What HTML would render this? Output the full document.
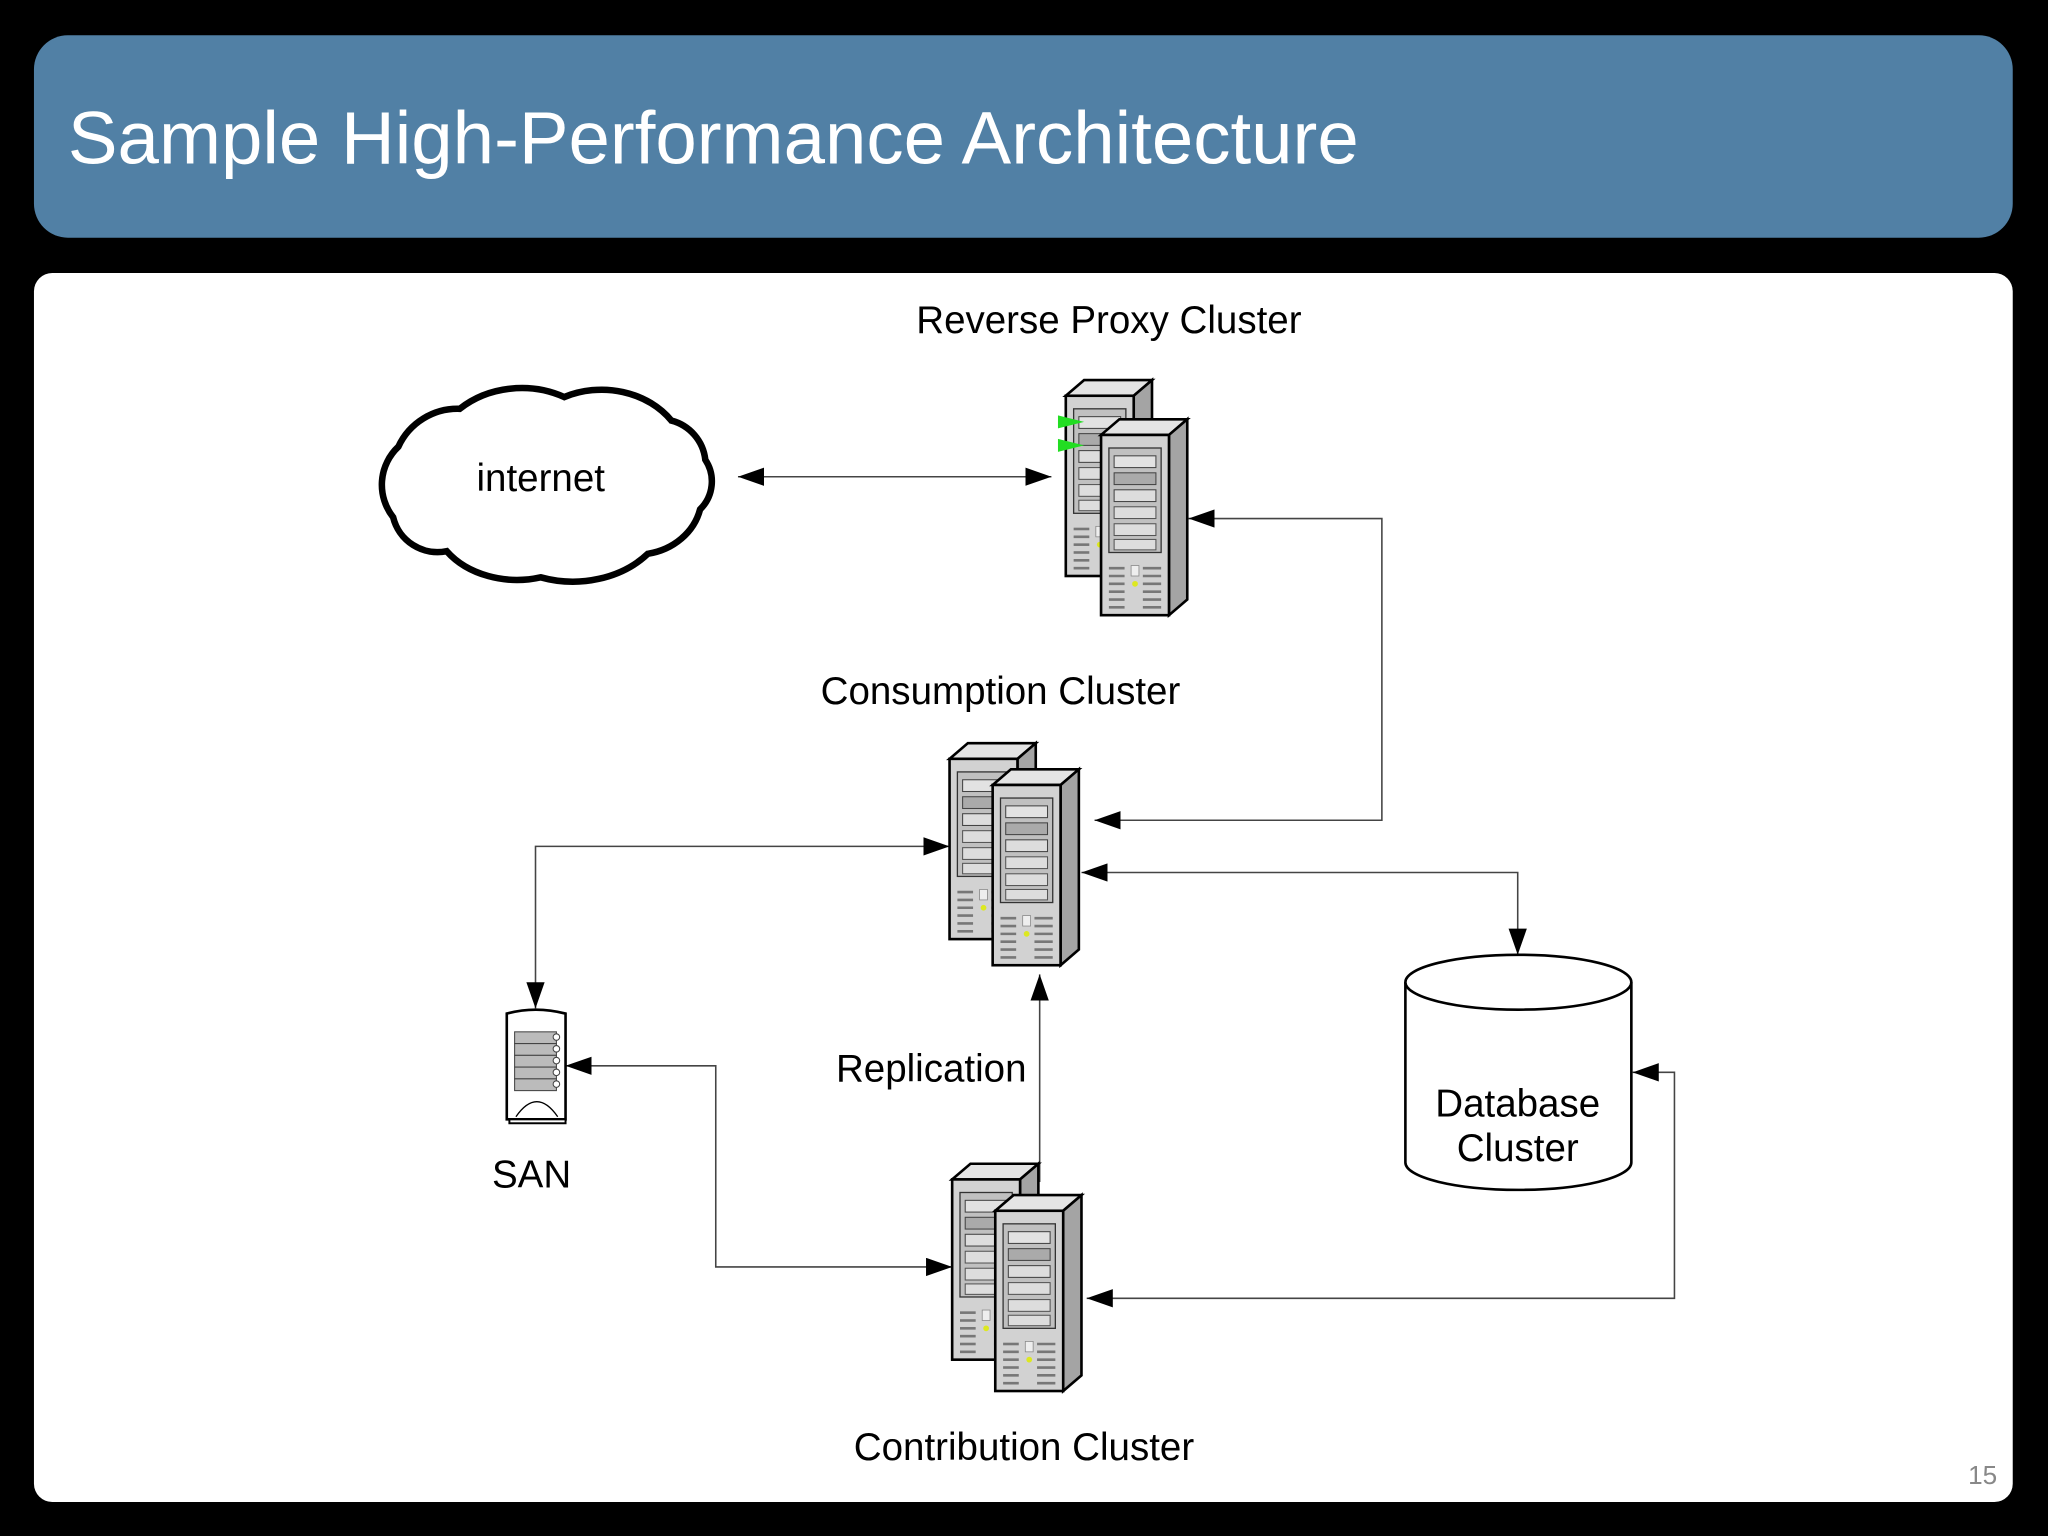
<!DOCTYPE html>
<html><head><meta charset="utf-8"><style>
html,body{margin:0;padding:0;background:#000;width:2048px;height:1536px;overflow:hidden}
svg{display:block}
text{font-family:"Liberation Sans",Arial,sans-serif}
</style></head><body>
<svg width="2048" height="1536" viewBox="0 0 1568 1176" xmlns="http://www.w3.org/2000/svg">
<defs>
<marker id="ah" viewBox="0 0 20 14" refX="20" refY="7" markerWidth="20" markerHeight="14" markerUnits="userSpaceOnUse" orient="auto-start-reverse">
<path d="M0,0 L20,7 L0,14 Z" fill="#000"/></marker>
<g id="tower">
<polygon points="0,12 14,0 66,0 52,12" fill="#e4e4e4" stroke="#000" stroke-width="2"/>
<polygon points="52,12 66,0 66,138 52,150" fill="#a4a4a4" stroke="#000" stroke-width="2"/>
<rect x="0" y="12" width="52" height="138" fill="#d2d2d2" stroke="#000" stroke-width="2"/>
<rect x="6" y="22" width="40" height="80" fill="#c0c0c0" stroke="#333" stroke-width="1"/>
<rect x="10" y="28" width="32" height="9" fill="#e2e2e2" stroke="#444" stroke-width=".8"/>
<rect x="10" y="41" width="32" height="9" fill="#aaa" stroke="#444" stroke-width=".8"/>
<rect x="10" y="54" width="32" height="9" fill="#ddd" stroke="#444" stroke-width=".8"/>
<rect x="10" y="67" width="32" height="9" fill="#ddd" stroke="#555" stroke-width=".8"/>
<rect x="10" y="80" width="32" height="9" fill="#ddd" stroke="#555" stroke-width=".8"/>
<rect x="10" y="92" width="32" height="8" fill="#ddd" stroke="#555" stroke-width=".8"/>
<g stroke="#777" stroke-width="2">
<line x1="6" y1="114" x2="18" y2="114"/><line x1="6" y1="120" x2="18" y2="120"/><line x1="6" y1="126" x2="18" y2="126"/><line x1="6" y1="132" x2="18" y2="132"/><line x1="6" y1="138" x2="18" y2="138"/><line x1="6" y1="144" x2="18" y2="144"/>
<line x1="32" y1="114" x2="46" y2="114"/><line x1="32" y1="120" x2="46" y2="120"/><line x1="32" y1="126" x2="46" y2="126"/><line x1="32" y1="132" x2="46" y2="132"/><line x1="32" y1="138" x2="46" y2="138"/><line x1="32" y1="144" x2="46" y2="144"/>
</g>
<rect x="23" y="112" width="6" height="8" fill="#eee" stroke="#888" stroke-width=".6"/>
<circle cx="26" cy="126" r="2.2" fill="#dde820"/>
</g>
</defs>
<rect x="26" y="27" width="1515" height="155" rx="26" fill="#5180a5"/>
<text x="52" y="125" font-size="57" fill="#fff">Sample High-Performance Architecture</text>
<rect x="26" y="209" width="1515" height="941" rx="14" fill="#fff"/>
<text x="1518" y="1136" font-size="20" fill="#888" text-anchor="middle">15</text>

<text x="849" y="255" font-size="29.5" text-anchor="middle">Reverse Proxy Cluster</text>
<text x="766" y="539" font-size="29.5" text-anchor="middle">Consumption Cluster</text>
<text x="713" y="828" font-size="29.5" text-anchor="middle">Replication</text>
<text x="784" y="1118" font-size="29.5" text-anchor="middle">Contribution Cluster</text>
<text x="407" y="909" font-size="29.5" text-anchor="middle">SAN</text>

<!-- cloud -->
<path d="M305,342 A50,50 0 0 1 352,313 A70,60 0 0 1 432,304 A65,55 0 0 1 514,322 A35,35 0 0 1 540,352 A30,30 0 0 1 536,390 A50,45 0 0 1 496,424 A75,60 0 0 1 414,442 A65,50 0 0 1 342,422 A35,35 0 0 1 301,396 A40,40 0 0 1 305,342 Z" fill="#fff" stroke="#000" stroke-width="5"/>
<text x="414" y="376" font-size="29.5" text-anchor="middle">internet</text>

<!-- connectors -->
<g fill="none" stroke="#444" stroke-width="1.2">
<line x1="565" y1="365" x2="805" y2="365" marker-start="url(#ah)" marker-end="url(#ah)"/>
<polyline points="910,397 1058,397 1058,628 838,628" marker-start="url(#ah)" marker-end="url(#ah)"/>
<polyline points="727,648 410,648 410,772" marker-start="url(#ah)" marker-end="url(#ah)"/>
<polyline points="828,668 1162,668 1162,731" marker-start="url(#ah)" marker-end="url(#ah)"/>
<line x1="796" y1="905" x2="796" y2="746" marker-end="url(#ah)"/>
<polyline points="433,816 548,816 548,970 729,970" marker-start="url(#ah)" marker-end="url(#ah)"/>
<polyline points="1250,821 1282,821 1282,994 832,994" marker-start="url(#ah)" marker-end="url(#ah)"/>
</g>

<!-- servers -->
<use href="#tower" x="816" y="291"/>
<polygon points="810,318 830,323 810,328" fill="#22dd22"/>
<polygon points="810,336 830,341 810,346" fill="#22dd22"/>
<use href="#tower" x="843" y="321"/>
<use href="#tower" x="727" y="569"/>
<use href="#tower" x="760" y="589"/>
<use href="#tower" x="729" y="891"/>
<use href="#tower" x="762" y="915"/>

<!-- SAN -->
<path d="M388,776 Q410,770 433,776 L433,857 L388,857 Z" fill="#fff" stroke="#000" stroke-width="2"/>
<rect x="390" y="857" width="43" height="3" fill="#fff" stroke="#000" stroke-width="1.5"/>
<g fill="#bbb" stroke="#444" stroke-width=".8">
<rect x="394" y="790" width="32" height="9"/><rect x="394" y="799" width="32" height="9"/><rect x="394" y="808" width="32" height="9"/><rect x="394" y="817" width="32" height="9"/><rect x="394" y="826" width="32" height="9"/>
</g>
<g fill="#fff" stroke="#444" stroke-width=".8">
<circle cx="426" cy="794" r="2.5"/><circle cx="426" cy="803" r="2.5"/><circle cx="426" cy="812" r="2.5"/><circle cx="426" cy="821" r="2.5"/><circle cx="426" cy="830" r="2.5"/>
</g>
<path d="M395,855 Q411,832 427,855" fill="none" stroke="#000" stroke-width="1"/>

<!-- database -->
<path d="M1076,752 L1076,890 A86.5,21 0 0 0 1249,890 L1249,752" fill="#fff" stroke="#000" stroke-width="2"/>
<ellipse cx="1162.5" cy="752" rx="86.5" ry="21" fill="#fff" stroke="#000" stroke-width="2"/>
<text x="1162" y="855" font-size="29.5" text-anchor="middle">Database</text>
<text x="1162" y="889" font-size="29.5" text-anchor="middle">Cluster</text>
</svg>
</body></html>
